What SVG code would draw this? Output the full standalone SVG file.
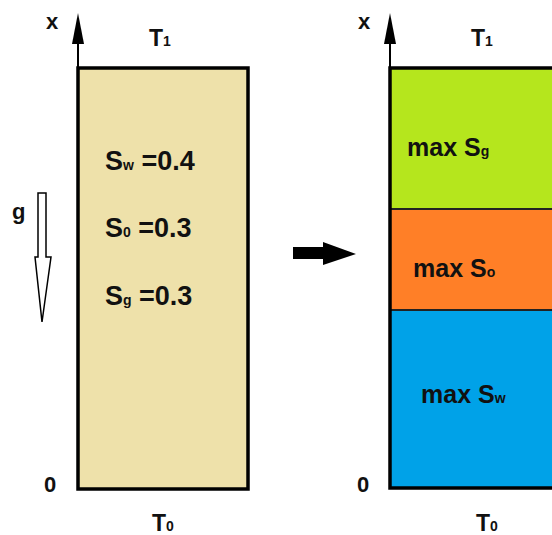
<svg xmlns="http://www.w3.org/2000/svg" width="552" height="535" viewBox="0 0 552 535">
<style>
text{font-family:"Liberation Sans",Arial,sans-serif;font-weight:bold;fill:#111}
.lbl{font-size:22px}
.T{font-size:23px}
.big{font-size:27px}
.mx{font-size:25px}
.sub{font-size:14px}
.axis{stroke:#000;stroke-width:2;fill:none}
.head{fill:#000}
.box{stroke:#000;stroke-width:3.5}
</style>
<rect width="552" height="535" fill="#fff"/>
<g id="left-column">
<rect x="78" y="68" width="170" height="421" fill="#EEE1AA" class="box"/>
</g>
<g id="right-column">
<rect x="390" y="68" width="180" height="141" fill="#B5E61D"/>
<rect x="390" y="209" width="180" height="101" fill="#FF7F27"/>
<rect x="390" y="310" width="180" height="178" fill="#00A2E8"/>
<line x1="390" y1="209" x2="560" y2="209" stroke="#222" stroke-width="2"/>
<line x1="390" y1="310" x2="560" y2="310" stroke="#222" stroke-width="2"/>
<rect x="390" y="68" width="180" height="420" fill="none" class="box"/>
</g>
<g id="connectors">
<line x1="78" y1="68" x2="78" y2="30" class="axis"/>
<path d="M72,44 L78,13 L84,44 Z" class="head"/>
<line x1="390" y1="68" x2="390" y2="30" class="axis"/>
<path d="M384,44 L390,13 L396,44 Z" class="head"/>
<path d="M38,193 L46,193 L46,257 L51,257 L42,322 L35,257 L38,257 Z" fill="#fff" stroke="#000" stroke-width="1.5"/>
<path d="M293,247 L323,247 L323,242 L356,254 L323,265 L323,259 L293,259 Z" fill="#000"/>
</g>
<g id="labels-left">
<text x="46" y="29" class="lbl">x</text>
<text x="149" y="46" class="T">T<tspan class="sub">1</tspan></text>
<text x="12" y="219" class="lbl">g</text>
<text x="44" y="492" class="lbl">0</text>
<text x="152" y="531" class="T">T<tspan class="sub">0</tspan></text>
<text x="105" y="170" class="big">S<tspan class="sub">w</tspan> =0.4</text>
<text x="105" y="237" class="big">S<tspan class="sub">0</tspan> =0.3</text>
<text x="105" y="305" class="big">S<tspan class="sub">g</tspan> =0.3</text>
</g>
<g id="labels-right">
<text x="358" y="29" class="lbl">x</text>
<text x="471" y="46" class="T">T<tspan class="sub">1</tspan></text>
<text x="357" y="492" class="lbl">0</text>
<text x="476" y="531" class="T">T<tspan class="sub">0</tspan></text>
<text x="407" y="156" class="mx">max S<tspan class="sub">g</tspan></text>
<text x="413" y="277" class="mx">max S<tspan class="sub">o</tspan></text>
<text x="421" y="403" class="mx">max S<tspan class="sub">w</tspan></text>
</g>
</svg>
